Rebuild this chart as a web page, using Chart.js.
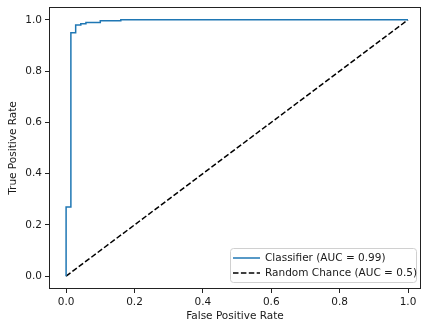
<!DOCTYPE html>
<html>
<head>
<meta charset="utf-8">
<script src="https://cdn.jsdelivr.net/npm/chart.js@4.4.0/dist/chart.umd.min.js"></script>
<style>
  body { margin: 0; background: #fff; }
  #wrap { width: 422px; height: 326px; }
</style>
</head>
<body>
<div id="wrap"><canvas id="grafico" width="422" height="326"></canvas></div>
<script>
// curva ROC (pontos em degrau)
const fpr = [0, 0, 0.014, 0.014, 0.028, 0.028, 0.043, 0.043, 0.058, 0.058, 0.10, 0.10, 0.16, 0.16, 1.0];
const tpr = [0, 0.27, 0.27, 0.95, 0.95, 0.98, 0.98, 0.985, 0.985, 0.99, 0.99, 0.996, 0.996, 1.0, 1.0];
const acasoX = [0, 1];
const acasoY = [0, 1];
const ticksX = [0, 0.2, 0.4, 0.6, 0.8, 1.0];
const ticksY = [0, 0.2, 0.4, 0.6, 0.8, 1.0];
const nomes = ['Classifier (AUC = 0.99)', 'Random Chance (AUC = 0.5)'];

const fonte = 'DejaVu Sans';
Chart.defaults.font.family = fonte;
Chart.defaults.font.size = 10.5;
Chart.defaults.color = '#1a1a1a';

// moldura e legenda no estilo matplotlib
const moldura = {
    id: 'moldura',
    afterDraw(chart) {
        const ctx = chart.ctx;
        const a = chart.chartArea;
        ctx.save();
        ctx.strokeStyle = '#222';
        ctx.lineWidth = 1;
        ctx.strokeRect(a.left + 0.5, a.top + 0.5, a.right - a.left - 1, a.bottom - a.top - 1);

        // legenda
        const x0 = 230.5, y0 = 248.5, w = 186, h = 34;
        ctx.fillStyle = 'rgba(255,255,255,0.8)';
        ctx.strokeStyle = '#d0d0d0';
        ctx.beginPath();
        ctx.roundRect(x0, y0, w, h, 3);
        ctx.fill();
        ctx.stroke();

        ctx.lineWidth = 1.5;
        ctx.strokeStyle = '#1f77b4';
        ctx.beginPath();
        ctx.moveTo(233, 258);
        ctx.lineTo(260, 258);
        ctx.stroke();

        ctx.strokeStyle = '#000';
        ctx.setLineDash([5.5, 2.4]);
        ctx.beginPath();
        ctx.moveTo(233, 273);
        ctx.lineTo(260, 273);
        ctx.stroke();
        ctx.setLineDash([]);

        ctx.fillStyle = '#1a1a1a';
        ctx.font = '10.5px ' + fonte;
        ctx.textBaseline = 'middle';
        ctx.fillText(nomes[0], 265, 258);
        ctx.fillText(nomes[1], 265, 273);
        ctx.restore();
    }
};

const eixo = (min, max, ticks, titulo) => ({
    type: 'linear',
    min: min,
    max: max,
    afterBuildTicks: (s) => { s.ticks = ticks.map(v => ({ value: v })); },
    ticks: {
        callback: (v) => Number(v).toFixed(1),
        padding: 3,
        autoSkip: false,
        maxRotation: 0
    },
    grid: {
        drawOnChartArea: false,
        drawTicks: true,
        tickLength: 4,
        color: '#222'
    },
    border: { display: false },
    title: { display: true, text: titulo, padding: { top: 3, bottom: 3 } }
});

const escalaX = eixo(-0.05, 1.038, ticksX, 'False Positive Rate');
escalaX.afterFit = (s) => { s.height = 37; s.paddingLeft = 0; s.paddingRight = 0; };
const escalaY = eixo(-0.05, 1.05, ticksY, 'True Positive Rate');
escalaY.title.padding = { top: 7, bottom: 3 };
escalaY.afterFit = (s) => { s.width = 49; s.paddingTop = 0; s.paddingBottom = 0; };

new Chart(document.getElementById('grafico'), {
    type: 'scatter',
    data: {
        datasets: [
            {
                label: nomes[0],
                data: fpr.map((x, i) => ({ x: x, y: tpr[i] })),
                showLine: true,
                borderColor: '#1f77b4',
                borderWidth: 1.5,
                pointRadius: 0,
                tension: 0
            },
            {
                label: nomes[1],
                data: acasoX.map((x, i) => ({ x: x, y: acasoY[i] })),
                showLine: true,
                borderColor: '#000',
                borderWidth: 1.5,
                borderDash: [5.5, 2.4],
                pointRadius: 0
            }
        ]
    },
    options: {
        responsive: false,
        animation: false,
        layout: { padding: { top: 7, right: 1, left: 0, bottom: 0 } },
        plugins: {
            legend: { display: false },
            tooltip: { enabled: false }
        },
        scales: { x: escalaX, y: escalaY }
    },
    plugins: [moldura]
});
</script>
</body>
</html>
